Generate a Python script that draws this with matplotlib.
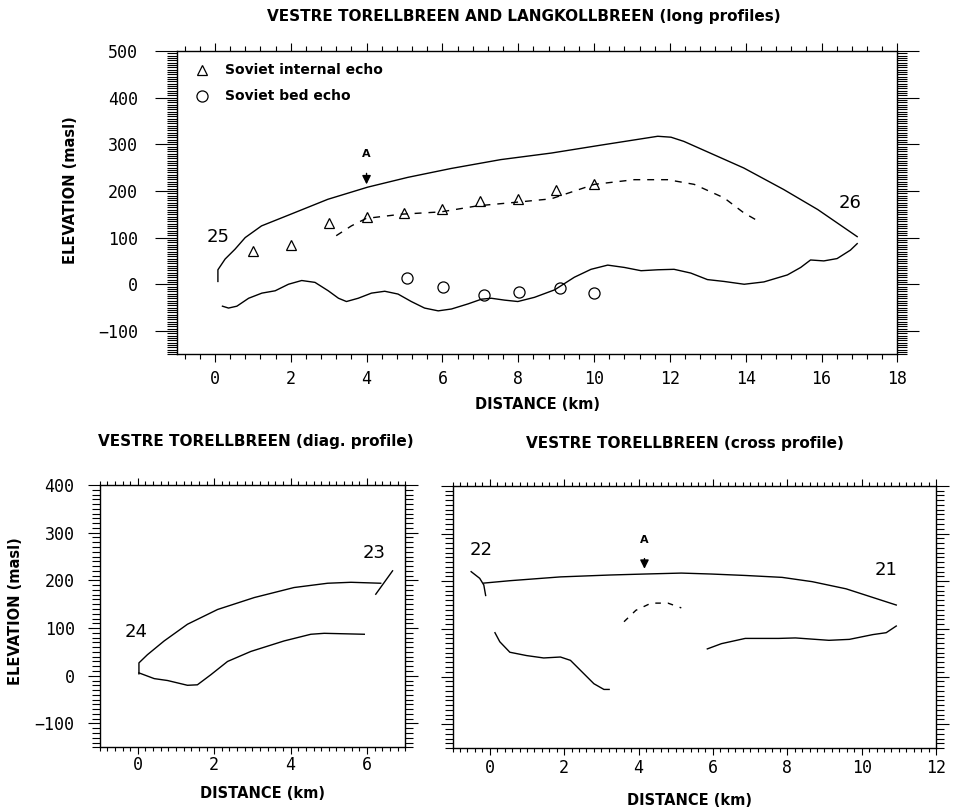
import matplotlib
matplotlib.use("Agg")
import matplotlib.pyplot as plt
from matplotlib.ticker import MultipleLocator

# ---- long profiles (25 -> 26) ----
long_surf_x = [0.08, 0.08, 0.27, 0.53, 0.8, 1.23, 2.0, 2.98, 4.03, 5.09, 6.23, 7.54, 8.87, 10.18, 11.68, 12.03, 12.37, 13.95, 15.0, 15.9, 16.94]
long_surf_y = [6, 31, 54, 75, 100, 125, 150, 182, 208, 229, 248, 267, 281, 298, 317, 315, 306, 249, 203, 160, 102]

long_bed_x = [0.20, 0.36, 0.58, 0.89, 1.24, 1.59, 1.94, 2.29, 2.64, 2.99, 3.26, 3.47, 3.78, 4.13, 4.48, 4.83,
              5.18, 5.53, 5.89, 6.24, 6.68, 7.03, 7.29, 7.64, 7.99, 8.43, 8.96, 9.48, 9.92, 10.36, 10.80,
              11.24, 11.68, 12.11, 12.55, 12.99, 13.43, 13.96, 14.48, 15.10, 15.45, 15.71, 16.06, 16.41, 16.76, 16.94]
long_bed_y = [-47, -51, -47, -30, -19, -14, 0, 8, 4, -14, -30, -37, -30, -19, -15, -21,
              -37, -51, -57, -53, -42, -32, -30, -34, -37, -28, -12, 15, 32, 41, 36,
              29, 31, 32, 24, 10, 6, 0, 5, 20, 36, 52, 50, 55, 73, 87]

long_int_x = [3.2, 3.6, 3.99, 4.91, 5.96, 6.93, 7.99, 8.87, 10.01, 11.06, 11.94, 12.64, 13.43, 13.95, 14.4]
long_int_y = [104, 125, 141, 150, 155, 168, 176, 183, 214, 224, 224, 214, 185, 153, 132]

soviet_int_x = [1, 2, 3, 4, 5, 6, 7, 8, 9, 10]
soviet_int_y = [72, 84, 131, 143, 153, 162, 179, 182, 202, 214]
soviet_bed_x = [5.07, 6.02, 7.09, 8.01, 9.09, 10.01]
soviet_bed_y = [13, -5, -22, -16, -9, -19]

# ---- diagonal profile (24 -> 23) ----
diag_surf_x = [0.03, 0.03, 0.25, 0.69, 1.3, 2.09, 3.05, 4.09, 4.97, 5.58, 6.36]
diag_surf_y = [4, 27, 44, 73, 108, 139, 164, 185, 194, 196, 194]
diag_end_x = [6.23, 6.67]
diag_end_y = [171, 220]
diag_bed_x = [0.03, 0.43, 0.78, 1.3, 1.56, 1.91, 2.35, 2.96, 3.83, 4.53, 4.88, 5.93]
diag_bed_y = [6, -6, -10, -20, -19, 2, 30, 51, 73, 87, 89, 87]

# ---- cross profile (22 -> 21) ----
cross_surf_x = [-0.16, 0.54, 1.9, 3.25, 4.16, 5.15, 5.96, 6.87, 7.86, 8.67, 9.58, 10.93]
cross_surf_y = [196, 201, 209, 213, 215, 217, 215, 212, 208, 199, 184, 150]
cross_end_x = [-0.5, -0.27, -0.16, -0.11]
cross_end_y = [220, 206, 192, 170]
cross_int_x = [3.61, 3.93, 4.34, 4.79, 5.15]
cross_int_y = [115, 139, 154, 154, 144]
cross_bed1_x = [0.14, 0.27, 0.54, 0.99, 1.45, 1.9, 2.17, 2.53, 2.8, 3.07, 3.21]
cross_bed1_y = [92, 73, 51, 44, 39, 41, 34, 6, -15, -27, -27]
cross_bed2_x = [5.85, 6.23, 6.87, 7.77, 8.22, 9.12, 9.67, 10.3, 10.66, 10.93]
cross_bed2_y = [58, 69, 80, 80, 81, 76, 78, 88, 92, 106]

TICKFONT = "DejaVu Sans Mono"
LW = 1.0


def style_axes(ax, xlim, ylim, xminor, yminor, ylen, xlen, ypad, xpad, ylabels=True):
    ax.set_xlim(*xlim)
    ax.set_ylim(*ylim)
    ax.xaxis.set_major_locator(MultipleLocator(2))
    ax.xaxis.set_minor_locator(MultipleLocator(xminor))
    ax.yaxis.set_major_locator(MultipleLocator(100))
    ax.yaxis.set_minor_locator(MultipleLocator(yminor))
    ax.tick_params(which="both", direction="out", top=True, right=True,
                   labeltop=False, labelright=False, width=0.8, labelsize=12)
    ax.tick_params(axis="y", which="major", length=ylen[0], pad=ypad)
    ax.tick_params(axis="y", which="minor", length=ylen[1])
    ax.tick_params(axis="x", which="major", length=xlen[0], pad=xpad)
    ax.tick_params(axis="x", which="minor", length=xlen[1])
    if not ylabels:
        ax.tick_params(labelleft=False)
    for lab in ax.get_xticklabels() + ax.get_yticklabels():
        lab.set_family(TICKFONT)
    for sp in ax.spines.values():
        sp.set_linewidth(1.0)


fig = plt.figure(figsize=(9.67, 8.07), dpi=100)

# top panel
ax1 = fig.add_axes([0.183, 0.561, 0.745, 0.376])
ax1.plot(long_surf_x, long_surf_y, color="k", lw=LW)
ax1.plot(long_bed_x, long_bed_y, color="k", lw=LW)
ax1.plot(long_int_x, long_int_y, color="k", lw=LW, ls=(0, (5, 5)))
ax1.plot(soviet_int_x, soviet_int_y, ls="none", marker="^", mfc="none", mec="k", ms=7, mew=0.9)
ax1.plot(soviet_bed_x, soviet_bed_y, ls="none", marker="o", mfc="none", mec="k", ms=8, mew=0.9)
ax1.plot([-0.35], [459], ls="none", marker="^", mfc="none", mec="k", ms=7, mew=0.9)
ax1.plot([-0.35], [403], ls="none", marker="o", mfc="none", mec="k", ms=8, mew=0.9)
ax1.text(0.28, 459, "Soviet internal echo", fontsize=10, weight="bold", va="center")
ax1.text(0.28, 403, "Soviet bed echo", fontsize=10, weight="bold", va="center")
ax1.annotate("A", xy=(4.0, 214), xytext=(4.0, 278), ha="center", va="center",
             fontsize=8, weight="bold",
             arrowprops=dict(arrowstyle="-|>", color="k", lw=1, mutation_scale=13, shrinkA=8, shrinkB=0))
ax1.text(0.09, 102, "25", fontsize=13, ha="center", va="center")
ax1.text(16.76, 175, "26", fontsize=13, ha="center", va="center")
style_axes(ax1, (-1, 18), (-150, 500), 0.4, 5, (16, 7), (6, 3.5), 12, 5)
ax1.set_xlabel("DISTANCE (km)", fontsize=10.5, weight="bold")
ax1.xaxis.set_label_coords(0.5, -0.142)
ax1.set_ylabel("ELEVATION (masl)", fontsize=10.5, weight="bold")
ax1.yaxis.set_label_coords(-0.1375, 0.54)
fig.text(0.542, 0.979, "VESTRE TORELLBREEN AND LANGKOLLBREEN (long profiles)",
         fontsize=11, weight="bold", ha="center", va="center")

# bottom left panel
ax2 = fig.add_axes([0.103, 0.074, 0.316, 0.325])
ax2.plot(diag_surf_x, diag_surf_y, color="k", lw=LW)
ax2.plot(diag_end_x, diag_end_y, color="k", lw=LW)
ax2.plot(diag_bed_x, diag_bed_y, color="k", lw=LW)
ax2.text(-0.05, 92, "24", fontsize=13, ha="center", va="center")
ax2.text(6.19, 257, "23", fontsize=13, ha="center", va="center")
style_axes(ax2, (-1, 7), (-150, 400), 0.2, 10, (9, 5.5), (5, 3), 9, 1.5)
ax2.set_xlabel("DISTANCE (km)", fontsize=10.5, weight="bold")
ax2.xaxis.set_label_coords(0.534, -0.149)
ax2.set_ylabel("ELEVATION (masl)", fontsize=10.5, weight="bold")
ax2.yaxis.set_label_coords(-0.252, 0.52)
fig.text(0.265, 0.453, "VESTRE TORELLBREEN (diag. profile)",
         fontsize=11, weight="bold", ha="center", va="center")

# bottom right panel
ax3 = fig.add_axes([0.468, 0.073, 0.500, 0.325])
ax3.plot(cross_surf_x, cross_surf_y, color="k", lw=LW)
ax3.plot(cross_end_x, cross_end_y, color="k", lw=LW)
ax3.plot(cross_int_x, cross_int_y, color="k", lw=LW, ls=(0, (4, 5)))
ax3.plot(cross_bed1_x, cross_bed1_y, color="k", lw=LW)
ax3.plot(cross_bed2_x, cross_bed2_y, color="k", lw=LW)
ax3.annotate("A", xy=(4.16, 226), xytext=(4.16, 287), ha="center", va="center",
             fontsize=8, weight="bold",
             arrowprops=dict(arrowstyle="-|>", color="k", lw=1, mutation_scale=13, shrinkA=8, shrinkB=0))
ax3.text(-0.23, 266, "22", fontsize=13, ha="center", va="center")
ax3.text(10.66, 224, "21", fontsize=13, ha="center", va="center")
style_axes(ax3, (-1, 12), (-150, 400), 0.2, 10, (9, 5.5), (5, 3), 9, 3, ylabels=False)
ax3.set_xlabel("DISTANCE (km)", fontsize=10.5, weight="bold")
ax3.xaxis.set_label_coords(0.49, -0.172)
fig.text(0.708, 0.451, "VESTRE TORELLBREEN (cross profile)",
         fontsize=11, weight="bold", ha="center", va="center")

fig.savefig("out.png", dpi=100)
